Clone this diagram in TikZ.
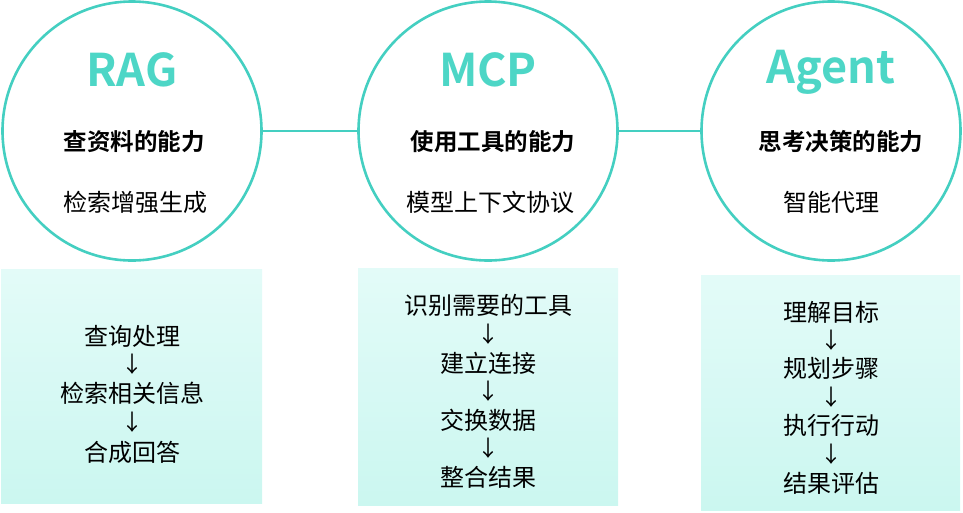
\documentclass[tikz,border=0pt]{standalone}
\usepackage{fontspec}
\setmainfont{Noto Sans CJK SC}
\newfontfamily\cjkb{Noto Sans CJK SC Bold}
\definecolor{teal1}{HTML}{44CFC1}
\definecolor{tealtxt}{HTML}{4DD6C6}
\definecolor{boxtop}{HTML}{E3FBF8}
\definecolor{boxbot}{HTML}{CBF7F0}
\tikzset{
  ring/.style={circle, draw=teal1, line width=2.6pt, fill=white, minimum size=259pt, inner sep=0pt},
  link/.style={draw=teal1, line width=2.4pt},
  title/.style={text=tealtxt, font=\cjkb\fontsize{45}{50}\selectfont},
  sub/.style={text=black, font=\cjkb\fontsize{23.5}{26}\selectfont},
  desc/.style={text=black, font=\fontsize{24}{28}\selectfont},
  panel/.style={top color=boxtop, bottom color=boxbot, draw=none},
  item/.style={text=black, font=\fontsize{24}{28}\selectfont, inner sep=0pt},
  arr/.style={text=black, font=\fontsize{22}{24}\selectfont, inner sep=0pt}
}
\begin{document}
\begin{tikzpicture}[x=1pt,y=-1pt]
\useasboundingbox (0,0) rectangle (963,512);
% circles
\node[ring] (c1) at (132,131) {};
\node[ring] (c2) at (488,131) {};
\node[ring] (c3) at (831,131) {};
\draw[link] (c1.east) -- (c2.west);
\draw[link] (c2.east) -- (c3.west);
% circle texts
\node[title] (t1) at (132,70) {RAG};
\node[sub] (s1) at (134,142) {查资料的能力};
\node[desc] (d1) at (135,202) {检索增强生成};
\node[title] (t2) at (488,70) {MCP};
\node[sub] (s2) at (493,142) {使用工具的能力};
\node[desc] (d2) at (490,202) {模型上下文协议};
\node[title] (t3) at (831,72) {Agent};
\node[sub] (s3) at (841,142) {思考决策的能力};
\node[desc] (d3) at (831,202) {智能代理};
% panels
\path[panel] (1,269) rectangle (262,503);
\path[panel] (358,268) rectangle (618,505);
\path[panel] (701,275) rectangle (960,510);
% left panel
\node[item] (l1) at (132,336) {查询处理};
\node[arr] (la1) at (132,364) {↓};
\node[item] (l2) at (132,393) {检索相关信息};
\node[arr] (la2) at (132,422) {↓};
\node[item] (l3) at (132,452) {合成回答};
% middle panel
\node[item] (m1) at (488,305) {识别需要的工具};
\node[arr] (ma1) at (488,334) {↓};
\node[item] (m2) at (488,363) {建立连接};
\node[arr] (ma2) at (488,391) {↓};
\node[item] (m3) at (488,420) {交换数据};
\node[arr] (ma3) at (488,448) {↓};
\node[item] (m4) at (488,477) {整合结果};
% right panel
\node[item] (r1) at (831,312) {理解目标};
\node[arr] (ra1) at (831,340) {↓};
\node[item] (r2) at (831,368) {规划步骤};
\node[arr] (ra2) at (831,397) {↓};
\node[item] (r3) at (831,425) {执行行动};
\node[arr] (ra3) at (831,454) {↓};
\node[item] (r4) at (831,483) {结果评估};
\end{tikzpicture}
\end{document}
